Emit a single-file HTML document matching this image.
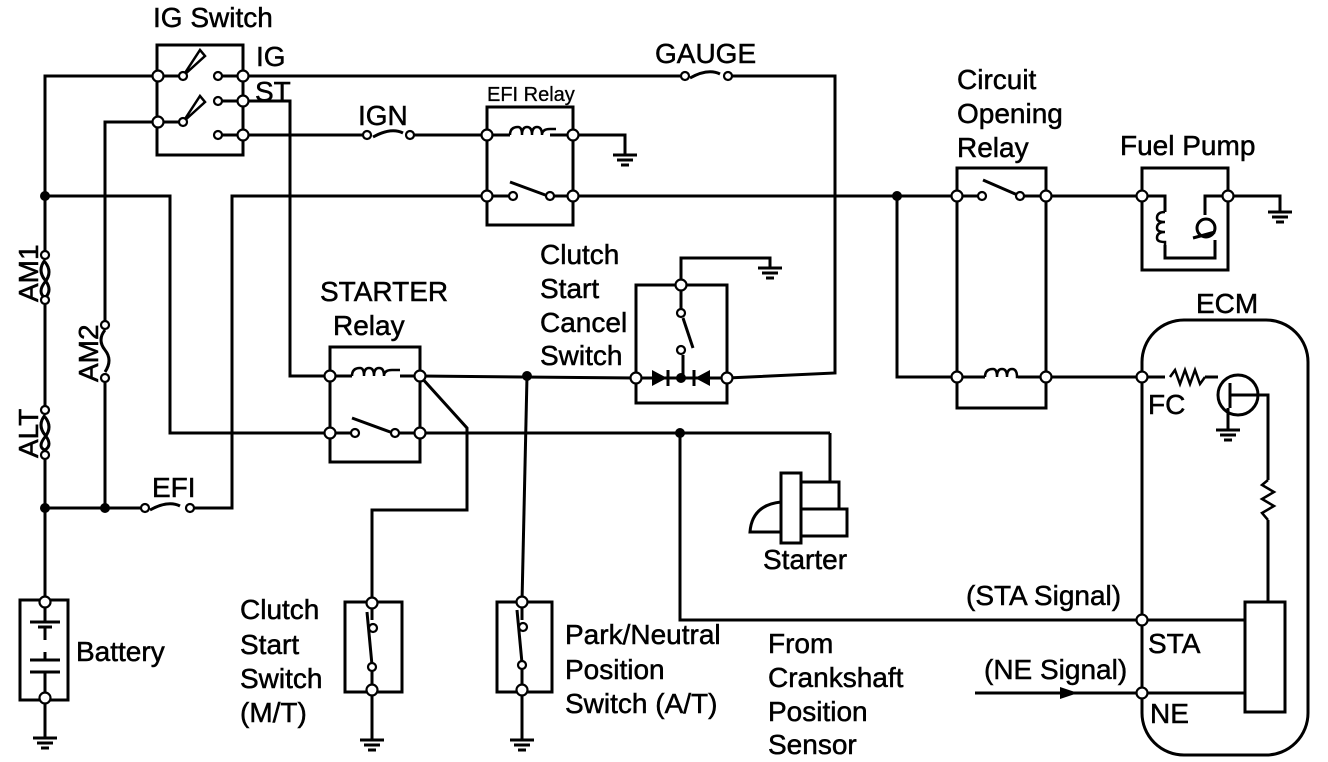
<!DOCTYPE html>
<html><head><meta charset="utf-8"><style>
html,body{margin:0;padding:0;background:#fff;}
svg{display:block;}
text{font-family:"Liberation Sans",sans-serif;fill:#000;stroke:#000;stroke-width:0.5;}
</style></head><body>
<svg width="1328" height="762" viewBox="0 0 1328 762" xmlns="http://www.w3.org/2000/svg">
<defs>
<g id="gnd"><line x1="-12" y1="0" x2="12" y2="0" stroke="#000" stroke-width="3"/><line x1="-8" y1="5" x2="8" y2="5" stroke="#000" stroke-width="3"/><line x1="-4" y1="10" x2="4" y2="10" stroke="#000" stroke-width="3"/></g>
</defs>
<g fill="none" stroke="#000" stroke-width="3" stroke-linejoin="miter">
<polyline points="157,76 45,76 45,255"/>
<line x1="45" y1="300" x2="45" y2="410"/>
<line x1="45" y1="455" x2="45" y2="602"/>
<line x1="45" y1="698" x2="45" y2="738"/>
<polyline points="45,196 170,196 170,433 330,433"/>
<polyline points="157,122 105,122 105,325"/>
<line x1="105" y1="378" x2="105" y2="508"/>
<line x1="45" y1="508" x2="145" y2="508"/>
<polyline points="190,508 232,508 232,196 487,196"/>
<polyline points="157,122 157,155 243,155 243,45 157,45 157,76"/>
<line x1="157" y1="76" x2="157" y2="122"/>
<line x1="243" y1="76" x2="243" y2="135"/>
<line x1="218" y1="76" x2="243" y2="76"/>
<line x1="218" y1="101" x2="243" y2="101"/>
<line x1="218" y1="135" x2="243" y2="135"/>
<line x1="157" y1="76" x2="180" y2="76"/><line x1="157" y1="122" x2="180" y2="122"/>
<line x1="243" y1="76" x2="683" y2="76"/>
<polyline points="728,76 835,76 835,373 727,378"/>
<polyline points="243,101 290,101 290,376 330,376"/>
<line x1="243" y1="135" x2="367" y2="135"/>
<line x1="410" y1="135" x2="487" y2="135"/>
<rect x="487" y="107" width="86" height="118"/>
<line x1="487" y1="135" x2="510" y2="135"/><line x1="550" y1="135" x2="573" y2="135"/>
<line x1="487" y1="196" x2="515" y2="196"/><line x1="550" y1="196" x2="573" y2="196"/>
<line x1="510" y1="182" x2="548" y2="196"/>
<polyline points="573,135 625,135 625,155"/>
<line x1="573" y1="196" x2="957" y2="196"/>
<rect x="957" y="168" width="89" height="240"/>
<line x1="957" y1="196" x2="980" y2="196"/><line x1="1020" y1="196" x2="1046" y2="196"/>
<line x1="983" y1="180" x2="1020" y2="196"/>
<polyline points="897,196 897,377 957,377"/>
<line x1="957" y1="377" x2="985" y2="377"/><line x1="1018" y1="377" x2="1046" y2="377"/>
<line x1="1046" y1="196" x2="1142" y2="196"/>
<line x1="1046" y1="377" x2="1165" y2="377"/>
<rect x="1142" y="168" width="86" height="102"/>
<polyline points="1142,196 1165,196 1165,212"/>
<polyline points="1165,245 1165,258 1215,258 1215,240"/>
<polyline points="1228,196 1205,196 1205,215"/>
<polyline points="1228,196 1280,196 1280,212"/>
<circle cx="1206" cy="228" r="9"/>
<line x1="1193" y1="238" x2="1215" y2="232"/>
<rect x="1142" y="320" width="166" height="435" rx="42"/>
<polyline points="1205,377 1218,377"/>
<circle cx="1238" cy="395" r="20"/>
<line x1="1230" y1="383" x2="1230" y2="408"/>
<polyline points="1230,395 1268,395 1268,480"/>
<line x1="1228" y1="408" x2="1228" y2="430"/>
<polyline points="1268,520 1268,602"/>
<rect x="1245" y="602" width="40" height="110"/>
<line x1="1142" y1="620" x2="1245" y2="620"/>
<line x1="975" y1="693" x2="1245" y2="693"/>
<rect x="330" y="347" width="90" height="115"/>
<line x1="330" y1="376" x2="352" y2="376"/><line x1="400" y1="376" x2="420" y2="376"/>
<line x1="330" y1="433" x2="355" y2="433"/><line x1="395" y1="433" x2="420" y2="433"/>
<line x1="352" y1="418" x2="393" y2="433"/>
<polyline points="420,376 467,428 467,510 372,510 372,603"/>
<line x1="420" y1="376" x2="636" y2="378"/>
<line x1="527" y1="376" x2="522" y2="602"/>
<line x1="420" y1="433" x2="830" y2="433"/>
<polyline points="680,433 680,620 1142,620"/>
<polyline points="830,433 830,482"/>
<rect x="636" y="285" width="91" height="118"/>
<polyline points="681,285 681,258 770,258 770,268"/>
<line x1="681" y1="285" x2="681" y2="312"/>
<line x1="683" y1="318" x2="693" y2="348"/>
<line x1="683" y1="355" x2="683" y2="378"/>
<line x1="636" y1="378" x2="727" y2="378"/>
<rect x="345" y="602" width="57" height="90"/>
<line x1="372" y1="603" x2="372" y2="620"/>
<line x1="367" y1="612" x2="372" y2="665"/>
<line x1="372" y1="670" x2="372" y2="740"/>
<rect x="497" y="602" width="55" height="90"/>
<line x1="522" y1="602" x2="522" y2="620"/>
<line x1="517" y1="610" x2="522" y2="663"/>
<line x1="522" y1="668" x2="522" y2="740"/>
<rect x="20" y="600" width="48" height="100"/>
<line x1="45" y1="602" x2="45" y2="622"/>
<line x1="45" y1="627" x2="45" y2="640"/>
<line x1="45" y1="652" x2="45" y2="660"/>
<line x1="45" y1="672" x2="45" y2="698"/>
<rect x="781" y="473" width="20" height="70"/>
<rect x="801" y="482" width="38" height="27"/>
<rect x="801" y="509" width="46" height="27"/>
<path d="M781,502 Q752,505 750,532 L781,532"/>
</g>
<g stroke="#000" stroke-width="3" fill="none">
<line x1="30" y1="622" x2="60" y2="622"/><line x1="38" y1="627" x2="52" y2="627"/>
<line x1="30" y1="660" x2="60" y2="660"/><line x1="38" y1="672" x2="52" y2="672"/>
<line x1="30" y1="672" x2="60" y2="672"/>
<path d="M183,76 L200,50 L205,56 Z" stroke-width="2.5"/>
<path d="M183,122 L200,96 L205,102 Z" stroke-width="2.5"/>
<path d="M373,137 q18,-10 30,-4"/>
<path d="M690,78 q18,-10 30,-4"/>
<path d="M150,510 q18,-10 30,-4"/>
<path d="M45,260 q-8,10 0,20 q8,10 0,18"/>
<path d="M45,262 q8,10 0,20 q-8,10 0,16"/>
<path d="M105,330 q-8,10 0,20 q8,10 0,22"/>
<path d="M45,415 q-8,10 0,20 q8,10 0,15"/>
<path d="M45,417 q8,10 0,20 q-8,10 0,13"/>
<path d="M510,135 q0,-8 8,-8 q4,0 4,8 q0,-8 5,-8 q5,0 5,8 q0,-8 5,-8 q5,0 5,8 q0,-6 8,-6 l6,0" stroke-width="2.5"/>
<path d="M352,376 q0,-8 8,-8 q4,0 4,8 q0,-8 5,-8 q5,0 5,8 q0,-8 5,-8 q5,0 5,8 q0,-6 8,-6 l8,0" stroke-width="2.5"/>
<path d="M985,377 q0,-8 8,-8 q4,0 4,8 q0,-8 5,-8 q5,0 5,8 q0,-8 5,-8 q5,0 5,8 l3,0" stroke-width="2.5"/>
<path d="M1165,212 q-8,0 -8,6 q0,4 8,4 q-8,0 -8,6 q0,4 8,4 q-8,0 -8,6 q0,4 8,4 l0,3" stroke-width="2.5"/>
<polyline points="1170,377 1175,370 1180,384 1185,370 1190,384 1195,370 1200,384 1205,377" stroke-width="2.5"/>
<polyline points="1268,480 1262,485 1274,492 1262,499 1274,506 1262,513 1268,520" stroke-width="2.5"/>
</g>
<polygon points="652,370 652,386 667,378" fill="#000"/>
<line x1="668" y1="370" x2="668" y2="386" stroke="#000" stroke-width="3"/>
<polygon points="710,370 710,386 695,378" fill="#000"/>
<line x1="694" y1="370" x2="694" y2="386" stroke="#000" stroke-width="3"/>
<polygon points="1060,687 1078,693 1060,699" fill="#000"/>
<use href="#gnd" x="625" y="155"/>
<use href="#gnd" x="770" y="268"/>
<use href="#gnd" x="1280" y="212"/>
<use href="#gnd" x="1228" y="430"/>
<use href="#gnd" x="45" y="738"/>
<use href="#gnd" x="372" y="740"/>
<use href="#gnd" x="522" y="740"/>
<g fill="#000"><circle cx="45" cy="196" r="5"/><circle cx="45" cy="508" r="5"/><circle cx="105" cy="508" r="5"/><circle cx="897" cy="196" r="5"/><circle cx="527" cy="376" r="5"/><circle cx="680" cy="433" r="5"/><circle cx="681" cy="378" r="5"/></g>
<g fill="#fff" stroke="#000" stroke-width="2.2">
<circle cx="158" cy="76" r="5.5"/><circle cx="158" cy="122" r="5.5"/><circle cx="183" cy="76" r="4"/><circle cx="183" cy="122" r="4"/>
<circle cx="218" cy="76" r="4"/><circle cx="218" cy="101" r="4"/><circle cx="218" cy="135" r="4"/>
<circle cx="243" cy="76" r="5.5"/><circle cx="243" cy="101" r="5.5"/><circle cx="243" cy="135" r="5.5"/>
<circle cx="367" cy="135" r="4"/><circle cx="410" cy="135" r="4"/>
<circle cx="685" cy="76" r="4"/><circle cx="728" cy="76" r="4"/>
<circle cx="145" cy="508" r="4"/><circle cx="190" cy="508" r="4"/>
<circle cx="45" cy="255" r="4"/><circle cx="45" cy="300" r="4"/><circle cx="105" cy="325" r="4"/><circle cx="105" cy="378" r="4"/>
<circle cx="45" cy="410" r="4"/><circle cx="45" cy="455" r="4"/>
<circle cx="487" cy="135" r="5.5"/><circle cx="573" cy="135" r="5.5"/><circle cx="487" cy="196" r="5.5"/><circle cx="573" cy="196" r="5.5"/><circle cx="513" cy="196" r="4"/><circle cx="550" cy="196" r="4"/>
<circle cx="957" cy="196" r="5.5"/><circle cx="1046" cy="196" r="5.5"/><circle cx="957" cy="377" r="5.5"/><circle cx="1046" cy="377" r="5.5"/><circle cx="982" cy="196" r="4"/><circle cx="1020" cy="196" r="4"/>
<circle cx="1142" cy="196" r="5.5"/><circle cx="1228" cy="196" r="5.5"/>
<circle cx="1142" cy="377" r="5.5"/><circle cx="1142" cy="620" r="5.5"/><circle cx="1142" cy="693" r="5.5"/>
<circle cx="330" cy="376" r="5.5"/><circle cx="420" cy="376" r="5.5"/><circle cx="330" cy="433" r="5.5"/><circle cx="420" cy="433" r="5.5"/><circle cx="355" cy="433" r="4"/><circle cx="395" cy="433" r="4"/>
<circle cx="636" cy="378" r="5.5"/><circle cx="727" cy="378" r="5.5"/><circle cx="681" cy="285" r="5.5"/><circle cx="681" cy="313" r="4"/><circle cx="681" cy="350" r="4"/>
<circle cx="372" cy="603" r="5.5"/><circle cx="372" cy="690" r="5.5"/><circle cx="373" cy="628" r="4"/><circle cx="372" cy="667" r="4"/>
<circle cx="522" cy="602" r="5.5"/><circle cx="522" cy="690" r="5.5"/><circle cx="523" cy="627" r="4"/><circle cx="522" cy="665" r="4"/>
<circle cx="45" cy="602" r="5.5"/><circle cx="45" cy="698" r="5.5"/>
</g>
<g font-size="28">
<text x="153" y="27">IG Switch</text>
<text x="256" y="66">IG</text>
<text x="255" y="101">ST</text>
<text x="358" y="125">IGN</text>
<text x="655" y="63">GAUGE</text>
<text x="957" y="89">Circuit</text>
<text x="957" y="123">Opening</text>
<text x="957" y="157">Relay</text>
<text x="1120" y="155">Fuel Pump</text>
<text x="1196" y="313">ECM</text>
<text x="1148" y="414">FC</text>
<text x="540" y="264">Clutch</text>
<text x="540" y="298">Start</text>
<text x="540" y="332">Cancel</text>
<text x="540" y="365">Switch</text>
<text x="320" y="301">STARTER</text>
<text x="333" y="335">Relay</text>
<text x="152" y="497">EFI</text>
<text x="76" y="661">Battery</text>
<text x="240" y="619">Clutch</text>
<text x="240" y="654">Start</text>
<text x="240" y="688">Switch</text>
<text x="240" y="722">(M/T)</text>
<text x="565" y="644">Park/Neutral</text>
<text x="565" y="679">Position</text>
<text x="565" y="713">Switch (A/T)</text>
<text x="768" y="653">From</text>
<text x="768" y="687">Crankshaft</text>
<text x="768" y="721">Position</text>
<text x="768" y="754">Sensor</text>
<text x="763" y="569">Starter</text>
<text x="966" y="605">(STA Signal)</text>
<text x="1148" y="653">STA</text>
<text x="984" y="679">(NE Signal)</text>
<text x="1150" y="723">NE</text>
<text transform="translate(38,302) rotate(-90)">AM1</text>
<text transform="translate(38,458) rotate(-90)">ALT</text>
<text transform="translate(98,382) rotate(-90)">AM2</text>
</g>
<text x="487" y="101" font-size="20" style="stroke-width:0.3">EFI Relay</text>
</svg>
</body></html>
